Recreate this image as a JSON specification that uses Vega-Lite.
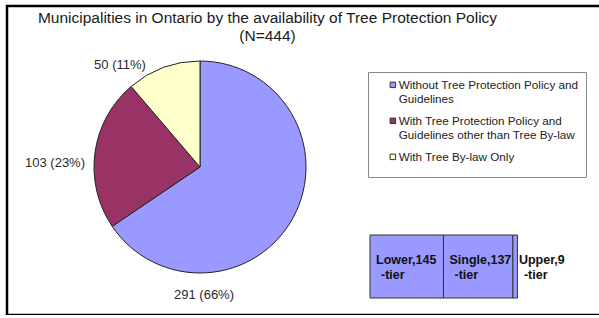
{
  "$schema": "https://vega.github.io/schema/vega-lite/v6.json",
  "width": 597,
  "height": 309,
  "autosize": {"type": "none"},
  "padding": {"left": 7, "top": 6, "right": 0, "bottom": 0},
  "background": "white",
  "title": {
    "text": ["Municipalities in Ontario by the availability of Tree Protection Policy", "(N=444)"],
    "font": "Liberation Sans",
    "fontSize": 15.5,
    "fontWeight": "normal",
    "color": "#1a1a1a",
    "anchor": "middle",
    "frame": "group",
    "dx": -38,
    "offset": -39,
    "lineHeight": 18
  },
  "config": {
    "view": {"stroke": "#000", "strokeWidth": 2.5},
    "font": "Liberation Sans"
  },
  "datasets": {
    "policy": [
      {"category": "Without Tree Protection Policy and Guidelines", "count": 291},
      {"category": "With Tree Protection Policy and Guidelines other than Tree By-law", "count": 103},
      {"category": "With Tree By-law Only", "count": 50}
    ],
    "tiers": [
      {"parent": "Without Tree Protection Policy and Guidelines", "tier": "Lower", "count": 145},
      {"parent": "Without Tree Protection Policy and Guidelines", "tier": "Single", "count": 137},
      {"parent": "Without Tree Protection Policy and Guidelines", "tier": "Upper", "count": 9}
    ]
  },
  "layer": [
    {
      "data": {"values": [{}]},
      "mark": {"type": "rule", "x": 290, "y": 112, "x2": 363, "y2": 229, "color": "#333", "strokeWidth": 1},
      "encoding": {}
    },
    {
      "data": {"values": [{}]},
      "mark": {"type": "rule", "x": 193, "y": 267, "x2": 363, "y2": 292, "color": "#333", "strokeWidth": 1},
      "encoding": {}
    },
    {
      "data": {"name": "policy"},
      "mark": {"type": "arc", "x": 193, "y": 161, "outerRadius": 106, "stroke": "#222", "strokeWidth": 1},
      "encoding": {
        "theta": {"field": "count", "type": "quantitative", "stack": true},
        "order": {"field": "count", "sort": "descending"},
        "color": {
          "field": "category",
          "type": "nominal",
          "scale": {
            "domain": [
              "Without Tree Protection Policy and Guidelines",
              "With Tree Protection Policy and Guidelines other than Tree By-law",
              "With Tree By-law Only"
            ],
            "range": ["#9999ff", "#993366", "#ffffcc"]
          },
          "legend": {
            "orient": "none",
            "legendX": 361,
            "legendY": 66,
            "title": " ",
            "titleOrient": "bottom",
            "titleFontSize": 5,
            "titlePadding": 1,
            "labelExpr": "datum.label === 'Without Tree Protection Policy and Guidelines' ? ['Without Tree Protection Policy and', 'Guidelines'] : datum.label === 'With Tree Protection Policy and Guidelines other than Tree By-law' ? ['With Tree Protection Policy and', 'Guidelines other than Tree By-law'] : datum.label",
            "labelFont": "Liberation Sans",
            "labelFontSize": 11.7,
            "labelColor": "#222",
            "labelLimit": 300,
            "labelOffset": 0,
            "symbolType": "square",
            "symbolSize": 30,
            "symbolStrokeColor": "#333",
            "symbolStrokeWidth": 1,
            "strokeColor": "#888",
            "fillColor": "white",
            "padding": 7,
            "symbolOffset": 12,
            "rowPadding": 9
          }
        }
      }
    },
    {
      "data": {"name": "policy"},
      "transform": [
        {"joinaggregate": [{"op": "sum", "field": "count", "as": "total"}]},
        {"calculate": "datum.count + ' (' + format(datum.count / datum.total, '.0%') + ')'", "as": "label"},
        {"filter": "datum.category === 'With Tree By-law Only'"}
      ],
      "mark": {"type": "text", "x": 113, "y": 59, "fontSize": 13, "color": "#2a2a2a"},
      "encoding": {"text": {"field": "label"}}
    },
    {
      "data": {"name": "policy"},
      "transform": [
        {"joinaggregate": [{"op": "sum", "field": "count", "as": "total"}]},
        {"calculate": "datum.count + ' (' + format(datum.count / datum.total, '.0%') + ')'", "as": "label"},
        {"filter": "datum.category === 'With Tree Protection Policy and Guidelines other than Tree By-law'"}
      ],
      "mark": {"type": "text", "x": 48, "y": 157, "fontSize": 13, "color": "#2a2a2a"},
      "encoding": {"text": {"field": "label"}}
    },
    {
      "data": {"name": "policy"},
      "transform": [
        {"joinaggregate": [{"op": "sum", "field": "count", "as": "total"}]},
        {"calculate": "datum.count + ' (' + format(datum.count / datum.total, '.0%') + ')'", "as": "label"},
        {"filter": "datum.category === 'Without Tree Protection Policy and Guidelines'"}
      ],
      "mark": {"type": "text", "x": 197, "y": 289, "fontSize": 13, "color": "#2a2a2a"},
      "encoding": {"text": {"field": "label"}}
    },
    {
      "data": {"name": "tiers"},
      "transform": [
        {"stack": "count", "groupby": ["parent"], "sort": [{"field": "count", "order": "descending"}], "as": ["x0", "x1"]},
        {"calculate": "datum.tier + ',' + datum.count", "as": "label"}
      ],
      "layer": [
        {
          "mark": {"type": "bar", "fill": "#9999ff", "stroke": "#333", "strokeWidth": 1},
          "encoding": {
            "x": {"field": "x0", "type": "quantitative", "scale": {"domain": [0, 291], "range": [363, 515]}, "axis": null},
            "x2": {"field": "x1"},
            "y": {"field": "parent", "type": "nominal", "scale": {"range": [229, 292], "paddingInner": 0, "paddingOuter": 0}, "axis": null}
          }
        },
        {
          "mark": {"type": "text", "align": "left", "dx": 6, "dy": -7, "fontWeight": "bold", "fontSize": 12.5, "color": "#111"},
          "encoding": {
            "x": {"field": "x0", "type": "quantitative"},
            "y": {"field": "parent", "type": "nominal"},
            "text": {"field": "label"}
          }
        },
        {
          "mark": {"type": "text", "align": "left", "dx": 11, "dy": 8, "fontWeight": "bold", "fontSize": 12.5, "color": "#111", "text": "-tier"},
          "encoding": {
            "x": {"field": "x0", "type": "quantitative"},
            "y": {"field": "parent", "type": "nominal"}
          }
        }
      ]
    }
  ]
}
